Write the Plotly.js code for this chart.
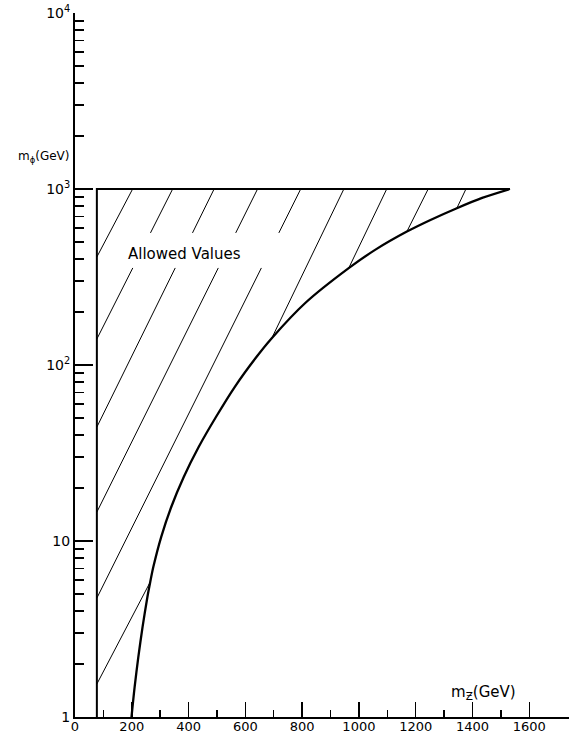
<!DOCTYPE html>
<html>
<head>
<meta charset="utf-8">
<script src="https://cdn.plot.ly/plotly-3.0.1.min.js"></script>
<style>html,body{margin:0;padding:0;background:#fff;}#chart{width:569px;height:736px;}</style>
</head>
<body>
<div id="chart"></div>
<script>
// ---- data ----
// boundary curve of the allowed region (m_Z in GeV, m_phi in GeV)
var curveX = [199, 210, 223, 238, 255, 265, 276, 304, 339, 383, 436, 497, 563, 639, 693, 811, 964, 1057, 1169, 1252, 1345, 1434, 1532];
var curveY = [1, 1.48, 2.19, 3.25, 4.81, 5.85, 7.13, 10.6, 15.6, 23.1, 34.3, 50.8, 75.2, 111, 142, 225, 355, 451, 573, 667, 778, 890, 1000];

// left vertical bound and top horizontal bound
var boundX = [77, 77, 1532];
var boundY = [1, 1000, 1000];

// hatch segments (start / end points)
var hatchX0 = [77, 77, 77, 77, 77, 77, 693, 964, 1169, 1345];
var hatchY0 = [411, 140.5, 44.4, 14.6, 4.74, 1.54, 142, 355, 573, 778];
var hatchX1 = [203, 344, 490, 643, 795, 265, 947, 1098, 1244, 1377];
var hatchY1 = [1000, 1000, 1000, 1000, 1000, 5.85, 1000, 1000, 1000, 1000];
var hatchGap = [false, true, true, true, true, false, false, false, false, false];
var gapLow = 356, gapHigh = 563;   // hatch lines interrupted around the label

var xMajor = [0, 200, 400, 600, 800, 1000, 1200, 1400, 1600];
var xMinor = [100, 300, 500, 700, 900, 1100, 1300, 1500];
var yMajor = [1, 10, 100, 1000, 10000];
var yMajorText = ['1', '10', '10<sup>2</sup>', '10<sup>3</sup>', '10<sup>4</sup>'];
var yMinorDigits = [2, 3, 4, 5, 6, 7, 8, 9];

// ---- build traces ----
var lg = Math.log10;
function xAt(i, yv) {
  var t = (lg(yv) - lg(hatchY0[i])) / (lg(hatchY1[i]) - lg(hatchY0[i]));
  return hatchX0[i] + t * (hatchX1[i] - hatchX0[i]);
}
var hx = [], hy = [];
for (var i = 0; i < hatchX0.length; i++) {
  if (hatchGap[i]) {
    hx.push(hatchX0[i], xAt(i, gapLow), null, xAt(i, gapHigh), hatchX1[i], null);
    hy.push(hatchY0[i], gapLow, null, gapHigh, hatchY1[i], null);
  } else {
    hx.push(hatchX0[i], hatchX1[i], null);
    hy.push(hatchY0[i], hatchY1[i], null);
  }
}
var yMinor = [];
for (var d = 1; d <= 1000; d *= 10) {
  yMinorDigits.forEach(function (k) { yMinor.push(k * d); });
}

var traces = [
  {x: hx, y: hy, mode: 'lines', line: {color: '#000', width: 1}, hoverinfo: 'skip', connectgaps: false},
  {x: boundX, y: boundY, mode: 'lines', line: {color: '#000', width: 2}, hoverinfo: 'skip'},
  {x: curveX, y: curveY, mode: 'lines', line: {color: '#000', width: 2.3, shape: 'spline', smoothing: 0.8}, hoverinfo: 'skip'}
];

var fam = 'DejaVu Sans, sans-serif';
var layout = {
  width: 569, height: 736,
  margin: {l: 75, r: 0, t: 13, b: 19},
  paper_bgcolor: '#fff', plot_bgcolor: '#fff',
  showlegend: false,
  font: {family: fam, color: '#000', size: 14},
  xaxis: {
    range: [0, 1740], showgrid: false, zeroline: false,
    showline: true, linecolor: '#000', linewidth: 2,
    ticks: 'inside', ticklen: 15, tickwidth: 1.5, tickcolor: '#000',
    tickmode: 'array', tickvals: xMajor, ticktext: xMajor.map(String),
    ticklabelstandoff: -4,
    tickfont: {family: fam, size: 13, color: '#000'},
    minor: {tickmode: 'array', tickvals: xMinor, ticks: 'inside', ticklen: 7, tickwidth: 1.5, tickcolor: '#000', showgrid: false}
  },
  yaxis: {
    type: 'log', range: [0, 4], showgrid: false, zeroline: false,
    showline: true, linecolor: '#000', linewidth: 2,
    ticks: 'inside', ticklen: 18, tickwidth: 1.5, tickcolor: '#000',
    tickmode: 'array', tickvals: yMajor, ticktext: yMajorText,
    tickfont: {family: fam, size: 14, color: '#000'},
    minor: {tickmode: 'array', tickvals: yMinor, ticks: 'inside', ticklen: 9, tickwidth: 1.5, tickcolor: '#000', showgrid: false}
  },
  annotations: [
    {text: 'Allowed Values', xref: 'x', yref: 'y', x: 384, y: 2.631, showarrow: false,
     font: {family: fam, size: 15, color: '#000'}, xanchor: 'center', yanchor: 'middle'},
    {text: 'm<sub>ϕ</sub>(GeV)', xref: 'paper', yref: 'paper', x: -0.006, y: 0.795, showarrow: false,
     font: {family: fam, size: 12, color: '#000'}, xanchor: 'right', yanchor: 'middle'},
    {text: 'm<sub>Ƶ</sub>(GeV)', xref: 'paper', yref: 'paper', x: 0.757, y: 0.035, showarrow: false,
     font: {family: fam, size: 15, color: '#000'}, xanchor: 'left', yanchor: 'middle'}
  ]
};

Plotly.newPlot('chart', traces, layout, {displayModeBar: false, staticPlot: true});
</script>
</body>
</html>
